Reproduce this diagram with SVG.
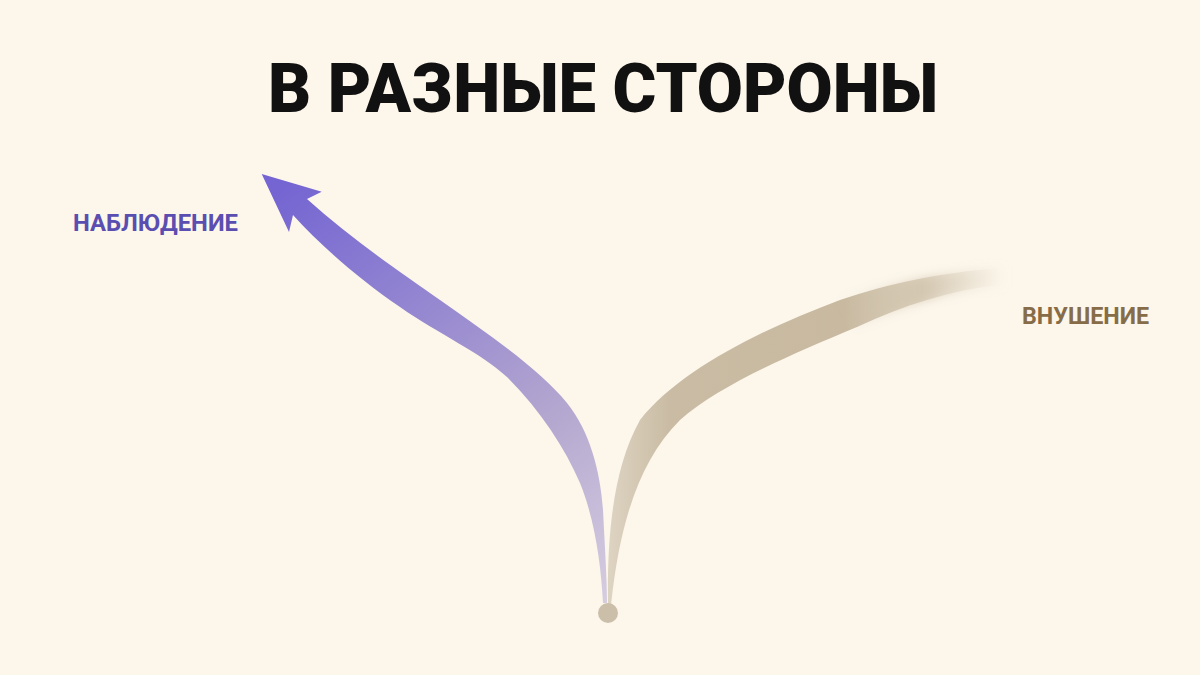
<svg xmlns="http://www.w3.org/2000/svg" width="1200" height="675" viewBox="0 0 1200 675">
<defs>
<style>
.title{font-family:Roboto,"Liberation Sans",sans-serif;font-weight:900;font-size:68px;fill:#111}
.lbl{font-family:Roboto,"Liberation Sans",sans-serif;font-weight:700;font-size:24px}
</style>
<linearGradient id="gp" gradientUnits="userSpaceOnUse" x1="607" y1="603" x2="280" y2="190">
<stop offset="0" stop-color="#d6cde0"/>
<stop offset="0.35" stop-color="#b3a6cf"/>
<stop offset="1" stop-color="#7465d2"/>
</linearGradient>
<linearGradient id="gb" gradientUnits="userSpaceOnUse" x1="610" y1="0" x2="1000" y2="0">
<stop offset="0" stop-color="#ddd3c1"/>
<stop offset="0.15" stop-color="#cabca4"/>
<stop offset="0.6" stop-color="#c8b9a0"/>
<stop offset="0.8" stop-color="#d0c3ac" stop-opacity="0.7"/>
<stop offset="1" stop-color="#e2d8c6" stop-opacity="0"/>
</linearGradient>
<linearGradient id="gt" gradientUnits="userSpaceOnUse" x1="840" y1="0" x2="1010" y2="0">
<stop offset="0" stop-color="#cdbfa7" stop-opacity="0"/>
<stop offset="0.5" stop-color="#cdbfa7" stop-opacity="0.6"/>
<stop offset="1" stop-color="#e2d8c6" stop-opacity="0"/>
</linearGradient>
<filter id="blur" x="-20%" y="-100%" width="140%" height="300%"><feGaussianBlur stdDeviation="5"/></filter>
</defs>
<rect width="1200" height="675" fill="#fcf6eb"/>
<g id="title"><text class="title" x="603" y="112" text-anchor="middle" textLength="670" lengthAdjust="spacingAndGlyphs">В РАЗНЫЕ СТОРОНЫ</text></g>
<g id="connectors">
<path id="beige" fill="url(#gb)" d="M608,605 C607,540 612,470 640,420 C680,370 760,330 840,300 C890,283 940,273 1000,268 L1000,285 C950,290 905,305 857,327 C790,355 720,385 680,420 C640,460 620,520 611,605 Z"/>
<path id="beige-tail" fill="url(#gt)" filter="url(#blur)" d="M840,300 C890,283 940,273 1005,266 L1005,287 C950,290 905,305 857,327 Z"/>
<path id="purple" fill="url(#gp)" d="M307,199 C350,238 400,272 440,300 C490,335 540,370 567,403 C590,432 600,470 603,510 C605,550 607,580 607,603 L603,603 C601,565 595,520 580,483 C565,448 540,410 507,377 C480,352 440,335 400,307 C360,280 320,245 293,215 L289,232 L261.7,174 L321.7,191.7 Z"/>
</g>
<g id="origin"><circle cx="608" cy="613" r="10" fill="#cbbfa9"/></g>
<g id="label-observe"><text class="lbl" x="73" y="231" fill="#5a4eb0" textLength="165" lengthAdjust="spacingAndGlyphs">НАБЛЮДЕНИЕ</text></g>
<g id="label-suggest"><text class="lbl" x="1022" y="324" fill="#876c48" textLength="127" lengthAdjust="spacingAndGlyphs">ВНУШЕНИЕ</text></g>
</svg>
